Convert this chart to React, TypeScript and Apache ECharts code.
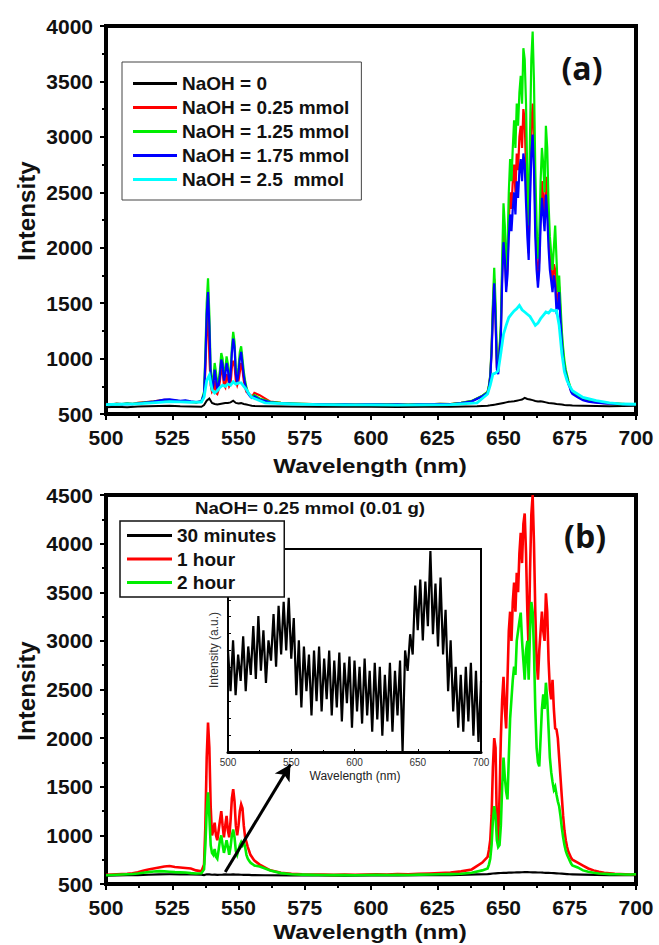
import React, { useEffect, useRef } from "react";
import * as echarts from "echarts";

// ---------- wavelength sampling grids (nm) ----------
function seq(a: number, b: number, step: number): number[] {
  const n = Math.round((b - a) / step);
  const out: number[] = [];
  for (let i = 0; i <= n; i++) out.push(+(a + i * step).toFixed(2));
  return out;
}
const wlFine = [
  ...seq(500, 536, 2),
  ...seq(537, 556, 0.5),
  ...seq(558, 642, 4),
  ...seq(644, 676, 0.5),
  ...seq(678, 700, 2),
];
const wlCoarse = [
  ...seq(500, 536, 4),
  ...seq(537, 556, 1),
  ...seq(560, 640, 10),
  ...seq(644, 676, 1),
  ...seq(680, 700, 5),
];
const wlInset = seq(500, 700, 2);

// ---------- axis ticks ----------
const xTicks = { min: 500, max: 700, interval: 25 };
const yTicksA = { min: 500, max: 4000, interval: 500 };
const yTicksB = { min: 500, max: 4500, interval: 500 };
const insetXTicks = { min: 500, max: 700, interval: 50 };

// ---------- legends ----------
const legendA = ["NaOH = 0", "NaOH = 0.25 mmol", "NaOH = 1.25 mmol", "NaOH = 1.75 mmol", "NaOH = 2.5  mmol"];
const legendB = ["30 minutes", "1 hour", "2 hour"];

// ---------- panel (a) intensities ----------
const blackA = [
  560, 565, 562, 568, 570, 572, 575, 570, 568, 565,
  580, 620, 640, 600, 590, 585, 590, 595, 600, 600, 605, 620, 600, 595, 598, 590, 585, 580, 575, 572,
  570, 568, 566, 565, 565, 564, 565, 566, 570,
  575, 578, 582, 585, 590, 595, 600, 605, 610, 612, 615, 620, 625, 630, 645, 635, 630, 625, 618, 612,
  615, 610, 605, 600, 598, 595, 590, 588, 585, 582, 580, 578, 576,
  574, 572, 570, 572, 575,
];
const redA = [
  592, 586, 594, 590, 596, 592, 600, 604, 610, 615, 622, 628, 626, 620, 614, 616, 608, 604, 614,
  660, 900, 1250, 1450, 1020, 760, 700, 720, 800, 690, 680, 720, 800, 920, 880, 760, 740, 860, 820, 750,
  770, 920, 980, 940, 800, 760, 800, 880, 960, 900, 800, 740, 700, 690, 680, 670, 660, 670, 690,
  670, 612, 600, 594, 591, 589, 587, 585, 589, 586, 587, 589, 586, 587, 585, 589, 587, 591, 589, 600, 616, 662,
  700, 750, 840, 1070, 1450, 1720, 1380, 920, 880, 1080, 1250, 1780, 2150, 2000, 1650, 1820, 2250, 2500, 2350, 2600,
  2750, 2500, 2850, 2700, 3000, 3100, 2900, 3250, 3150, 2700, 2300, 1950, 2600, 3100, 3300, 2950, 2300, 1900, 1700, 1900,
  2350, 2600, 2450, 2250, 2640, 2450, 2150, 1900, 1780, 1700, 1850, 1800, 1550, 1500, 1650, 1400, 1180, 1030, 940, 870,
  830, 780, 750, 710, 690,
  660, 632, 618, 608, 602, 598, 596, 593, 591, 589, 587, 591,
];
const greenA = [
  590, 585, 592, 588, 595, 590, 598, 602, 608, 612, 618, 625, 628, 622, 615, 618, 610, 605, 612,
  700, 1050, 1500, 1725, 1400, 900, 780, 820, 960, 880, 760, 800, 900, 1050, 1000, 840, 900, 1020, 950, 820,
  880, 1100, 1240, 1150, 900, 820, 920, 1060, 1110, 1000, 880, 800, 740, 700, 680, 660, 650, 660, 670,
  640, 610, 600, 596, 592, 590, 588, 586, 590, 585, 588, 590, 586, 588, 584, 590, 588, 592, 590, 600, 618, 665,
  700, 760, 850, 1100, 1500, 1820, 1500, 1000, 900, 1100, 1300, 1900, 2400, 2200, 1800, 2000, 2500, 2800, 2600, 2900,
  3150, 2900, 3300, 3100, 3400, 3550, 3300, 3800, 3700, 3300, 2600, 2200, 3000, 3700, 3950, 3500, 2700, 2200, 1900, 2100,
  2600, 2900, 2750, 2500, 3100, 2900, 2400, 2100, 1950, 1800, 2000, 2200, 1900, 1600, 1750, 1500, 1250, 1100, 980, 900,
  850, 800, 760, 720, 700,
  670, 640, 625, 612, 605, 600, 598, 595, 592, 590, 588, 592,
];
const blueA = [
  588, 584, 590, 586, 592, 588, 595, 600, 606, 612, 620, 630, 632, 625, 618, 622, 614, 608, 615,
  680, 980, 1400, 1600, 1300, 850, 720, 760, 900, 820, 720, 760, 850, 990, 950, 800, 850, 960, 900, 780,
  840, 1050, 1180, 1100, 860, 780, 870, 1000, 1060, 950, 840, 770, 720, 690, 670, 655, 645, 650, 660,
  630, 605, 596, 592, 590, 588, 586, 584, 588, 584, 586, 588, 585, 586, 583, 588, 586, 590, 588, 598, 614, 660,
  690, 740, 830, 1050, 1400, 1680, 1350, 900, 860, 1050, 1200, 1700, 2050, 1900, 1600, 1750, 2100, 2300, 2150, 2350,
  2500, 2300, 2600, 2450, 2700, 2800, 2600, 2850, 2750, 2400, 2100, 1890, 2400, 2850, 3020, 2700, 2100, 1800, 1640, 1800,
  2200, 2450, 2300, 2150, 2480, 2300, 2000, 1800, 1700, 1600, 1750, 1650, 1430, 1450, 1600, 1350, 1150, 1000, 920, 860,
  820, 770, 740, 700, 680,
  650, 625, 612, 605, 600, 596, 594, 592, 590, 588, 586, 590,
];
const cyanA = [
  585, 588, 590, 592, 598, 605, 612, 610, 606, 608,
  650, 800, 850, 720, 690, 710, 740, 760, 750, 770, 760, 790, 770, 780, 780, 750, 720, 680, 650, 640,
  600, 590, 585, 583, 582, 580, 582, 585, 600,
  680, 760, 860, 870, 890, 1050, 1220, 1300, 1370, 1400, 1430, 1450, 1480, 1440, 1420, 1400, 1380, 1340, 1300, 1320,
  1360, 1390, 1420, 1410, 1440, 1430, 1434, 1300, 1050, 880, 800, 750, 710,
  650, 620, 600, 590, 588,
];

// ---------- panel (b) intensities ----------
const blackB = [
  585, 588, 590, 592, 595, 598, 600, 600, 598, 596,
  592, 600, 598, 595, 596, 594, 595, 596, 598, 597, 596, 598, 597, 596, 595, 594, 594, 593, 592, 592,
  590, 588, 588, 587, 588, 588, 590, 592, 598,
  602, 605, 608, 610, 612, 613, 615, 615, 617, 616, 618, 620, 619, 621, 622, 623, 621, 620, 619, 618,
  618, 616, 615, 614, 613, 612, 610, 608, 606, 604, 602, 600, 599,
  596, 594, 592, 590, 590,
];
const redB = [
  595, 598, 600, 602, 605, 610, 620, 635, 650, 660, 670, 680, 685, 675, 670, 665, 660, 640, 630,
  700, 1100, 1800, 2160, 1900, 1300, 1000, 1050, 1130, 1000, 950, 1050, 1150, 1250, 1100, 980, 1100, 1200, 1050, 980,
  1150, 1380, 1475, 1350, 1100, 1000, 1100, 1250, 1320, 1280, 1100, 980, 930, 880, 840, 800, 780, 760, 740,
  700, 640, 615, 605, 600, 598, 596, 594, 596, 595, 598, 600, 598, 602, 600, 604, 608, 612, 618, 630, 650, 720,
  780, 850, 950, 1200, 1700, 2000, 1900, 1100, 930, 1400, 2000, 2400, 2630, 2300, 2100, 2600, 3100, 3300, 3000, 3400,
  3600, 3300, 3700, 3500, 3900, 4110, 3800, 4200, 4310, 3900, 3300, 2900, 3700, 4300, 4500, 4000, 3300, 2800, 2600, 2900,
  3100, 3300, 3100, 3000, 3490, 3300, 2800, 2500, 2400, 2600, 2300, 2100, 2090, 2000, 1800, 1600, 1400, 1200, 1050, 950,
  880, 830, 800, 770, 750,
  720, 690, 660, 640, 625, 615, 610, 605, 602, 600, 598, 600,
];
const greenB = [
  590, 592, 595, 598, 600, 603, 608, 615, 622, 628, 632, 630, 626, 622, 620, 618, 612, 608, 610,
  650, 900, 1250, 1443, 1200, 900, 820, 800, 860, 780, 760, 850, 950, 1000, 900, 820, 880, 950, 880, 800,
  880, 1000, 1060, 980, 840, 800, 850, 900, 930, 900, 930, 880, 800, 760, 740, 720, 710, 700, 690,
  680, 640, 612, 600, 596, 594, 592, 591, 592, 590, 592, 594, 592, 595, 593, 596, 598, 600, 602, 606, 615, 640,
  660, 700, 760, 900, 1150, 1300, 1200, 950, 880, 900, 1100, 1500, 1800, 1600, 1450, 1370, 1800, 2200, 2400, 2600,
  2735, 2650, 3000, 3100, 3200, 3290, 3000, 2800, 2600, 2900, 3000, 2600, 3100, 3400, 3300, 2900, 2300, 1900, 1750, 1710,
  2000, 2300, 2450, 2300, 2570, 2400, 2100, 1800, 1650, 1550, 1470, 1500, 1420, 1350, 1300, 1200, 1080, 980, 900, 840,
  800, 770, 740, 710, 690,
  670, 640, 625, 615, 608, 605, 602, 600, 600, 598, 597, 600,
];

// ---------- inset (30 minutes, a.u.) ----------
const insetVals = [
  50, 30, 55, 28, 48, 35, 57, 30, 52, 38, 62, 36, 67, 40, 60, 34, 55, 45, 68, 42, 72, 48, 74, 50, 76,
  46, 66, 28, 55, 22, 52, 30, 48, 18, 50, 25, 52, 20, 46, 26, 50, 18, 45, 22, 49, 15, 44, 24, 47, 12,
  45, 20, 42, 14, 46, 18, 40, 10, 44, 16, 42, 8, 38, 15, 44, 10, 40, 18, 45, 0, 50, 40, 58, 48, 82,
  60, 85, 55, 84, 62, 99, 58, 83, 52, 86, 48, 70, 30, 55, 20, 42, 12, 38, 10, 42, 15, 44, 8, 40, 5, 35,
];

// arrow annotation (data coords of panel b)
const arrowFrom = [545, 623];
const arrowTo = [569.6, 1730];

const FONT = "'Liberation Sans', Arial, sans-serif";

function pairs(xs: number[], ys: number[]) {
  return xs.map((x, i) => [x, ys[i]]);
}

function lineSeries(name: string, xs: number[], ys: number[], color: string, width: number, idx: number, extra: any = {}) {
  return {
    type: "line",
    name,
    data: pairs(xs, ys),
    xAxisIndex: idx,
    yAxisIndex: idx,
    showSymbol: false,
    symbol: "none",
    silent: true,
    itemStyle: { color },
    lineStyle: { color, width, join: "miter" },
    ...extra,
  };
}

const plain = (v: number) => String(v);

function mainX(gridIndex: number) {
  return {
    type: "value",
    gridIndex,
    ...xTicks,
    axisLine: { show: true, onZero: false, lineStyle: { color: "#000", width: 4 } },
    axisTick: { show: true, inside: false, length: 6, lineStyle: { color: "#000", width: 2 } },
    minorTick: { show: true, splitNumber: 2, length: 4, lineStyle: { color: "#000", width: 2 } },
    axisLabel: { color: "#111", fontSize: 21, fontWeight: "bold", fontFamily: FONT, margin: 13, formatter: plain },
    splitLine: { show: false },
  };
}
function mainY(gridIndex: number, ticks: any) {
  return {
    type: "value",
    gridIndex,
    ...ticks,
    axisLine: { show: true, onZero: false, lineStyle: { color: "#000", width: 4 } },
    axisTick: { show: true, inside: false, length: 6, lineStyle: { color: "#000", width: 2 } },
    minorTick: { show: true, splitNumber: 2, length: 4, lineStyle: { color: "#000", width: 2 } },
    axisLabel: { color: "#111", fontSize: 21, fontWeight: "bold", fontFamily: FONT, margin: 13, formatter: plain },
    splitLine: { show: false },
  };
}

function txt(text: string, x: number, y: number, size: number, opts: any = {}) {
  return {
    type: "text",
    x,
    y,
    rotation: opts.rotation || 0,
    scaleX: opts.scaleX || 1,
    z: 100,
    silent: true,
    style: {
      text,
      fill: opts.fill || "#111",
      fontSize: size,
      fontWeight: opts.weight || "bold",
      fontFamily: opts.family || FONT,
      textAlign: "center",
      textVerticalAlign: "middle",
      align: "center",
      verticalAlign: "middle",
    },
  };
}

export default function App() {
  const ref = useRef<HTMLDivElement>(null);
  useEffect(() => {
    if (!ref.current) return;
    const chart = echarts.init(ref.current, undefined, { renderer: "svg" });
    const option: any = {
      animation: false,
      backgroundColor: "#fff",
      grid: [
        { left: 106, top: 26, width: 530, height: 388, show: true, borderColor: "#000", borderWidth: 4, backgroundColor: "transparent" },
        { left: 106, top: 495, width: 530, height: 389, show: true, borderColor: "#000", borderWidth: 4, backgroundColor: "transparent" },
        { left: 228, top: 549, width: 253, height: 203, show: true, borderColor: "#000", borderWidth: 2, backgroundColor: "#fff" },
      ],
      xAxis: [
        mainX(0),
        mainX(1),
        {
          type: "value",
          gridIndex: 2,
          ...insetXTicks,
          axisLine: { show: true, onZero: false, lineStyle: { color: "#000", width: 3 } },
          axisTick: { show: true, inside: true, length: 3, lineStyle: { color: "#000", width: 1 } },
          minorTick: { show: true, splitNumber: 2, length: 2, lineStyle: { color: "#000", width: 1 } },
          axisLabel: { color: "#333", fontSize: 10, fontFamily: FONT, margin: 5, formatter: plain },
          splitLine: { show: false },
        },
      ],
      yAxis: [
        mainY(0, yTicksA),
        mainY(1, yTicksB),
        {
          type: "value",
          gridIndex: 2,
          min: 0,
          max: 100,
          interval: 25,
          axisLine: { show: true, onZero: false, lineStyle: { color: "#000", width: 2 } },
          axisTick: { show: true, inside: true, length: 3, lineStyle: { color: "#000", width: 1 } },
          minorTick: { show: true, splitNumber: 3, length: 3, lineStyle: { color: "#000", width: 1 } },
          axisLabel: { show: false },
          splitLine: { show: false },
        },
      ],
      legend: [
        {
          data: legendA,
          orient: "vertical",
          left: 122,
          top: 62,
          padding: [12, 12, 11, 11],
          itemGap: 5,
          itemWidth: 44,
          itemHeight: 3,
          icon: "rect",
          selectedMode: false,
          backgroundColor: "#fff",
          borderColor: "#444",
          borderWidth: 1,
          textStyle: { fontSize: 19, fontWeight: "bold", color: "#111", fontFamily: FONT, lineHeight: 19 },
          z: 20,
        },
        {
          data: legendB,
          orient: "vertical",
          left: 120,
          top: 521,
          padding: [5, 8, 5, 7],
          itemGap: 4.5,
          itemWidth: 45,
          itemHeight: 3,
          icon: "rect",
          selectedMode: false,
          backgroundColor: "#fff",
          borderColor: "#111",
          borderWidth: 1.5,
          textStyle: { fontSize: 19, fontWeight: "bold", color: "#111", fontFamily: FONT, lineHeight: 19 },
          z: 20,
        },
      ],
      series: [
        lineSeries(legendA[0], wlCoarse, blackA, "#000000", 2, 0),
        lineSeries(legendA[1], wlFine, redA, "#ff0000", 2.2, 0),
        lineSeries(legendA[2], wlFine, greenA, "#00ee00", 2.2, 0),
        lineSeries(legendA[3], wlFine, blueA, "#0000ff", 2.2, 0),
        lineSeries(legendA[4], wlCoarse, cyanA, "#00ffff", 2.8, 0),
        lineSeries(legendB[0], wlCoarse, blackB, "#000000", 2.2, 1, {
          markLine: {
            silent: true,
            symbol: ["none", "arrow"],
            symbolSize: [13, 16],
            label: { show: false },
            lineStyle: { color: "#000", width: 3, type: "solid" },
            data: [[{ coord: arrowFrom }, { coord: arrowTo }]],
          },
        }),
        lineSeries(legendB[1], wlFine, redB, "#ff0000", 2.6, 1),
        lineSeries(legendB[2], wlFine, greenB, "#00ee00", 2.6, 1),
        lineSeries("inset 30 minutes", wlInset, insetVals, "#000000", 2.2, 2),
      ],
      graphic: [
        txt("(a)", 582, 67, 32, { family: "'Open Sans', sans-serif" }),
        txt("(b)", 585, 535, 32, { family: "'Open Sans', sans-serif" }),
        txt("Intensity", 27, 211, 23, { rotation: Math.PI / 2, scaleX: 1.05 }),
        txt("Intensity", 27, 691, 23, { rotation: Math.PI / 2, scaleX: 1.05 }),
        txt("Wavelength (nm)", 370, 466, 21, { scaleX: 1.15 }),
        txt("Wavelength (nm)", 370, 932, 21, { scaleX: 1.15 }),
        txt("NaOH= 0.25 mmol (0.01 g)", 310, 508, 17, { scaleX: 1.1 }),
        txt("Intensity (a.u.)", 214, 650, 12, { rotation: Math.PI / 2, weight: "normal", fill: "#333" }),
        txt("Wavelength (nm)", 355, 776, 12, { weight: "normal", fill: "#222" }),
      ],
    };
    chart.setOption(option);
    return () => chart.dispose();
  }, []);
  return <div ref={ref} style={{ position: "absolute", left: 0, top: 0, width: 659, height: 945 }} />;
}
